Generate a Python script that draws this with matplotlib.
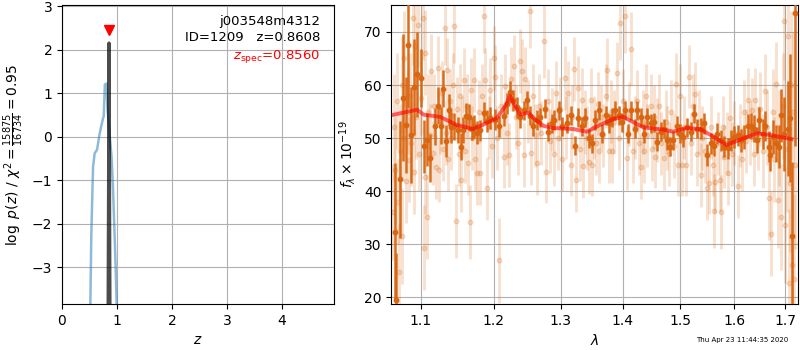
import time

import matplotlib
matplotlib.use("Agg")
import matplotlib.pyplot as plt
import numpy as np
from matplotlib.ticker import FixedLocator, FormatStrFormatter, NullLocator

# p(z) curves
pz_z = [0.50, 0.516, 0.534, 0.565, 0.595, 0.638, 0.681, 0.712, 0.748, 0.76, 0.78,
        0.81, 0.829, 0.866, 0.902, 0.927, 0.952, 0.976, 0.995, 1.01]
pz_logp = [-4.5, -3.85, -2.22, -0.69, -0.38, -0.30, 0.04, 0.23, 0.43, 0.47, 1.20,
           1.22, 0.62, 0.05, -0.46, -1.15, -2.07, -2.99, -3.85, -4.5]

fit_z = [0.840, 0.850, 0.856, 0.862, 0.872]
fit_logp = [-4.5, -1.0, 2.15, -1.0, -4.5]

z_spec = 0.856
z_best = 0.8608
obj_id = 1209
root = "j003548m4312"
chi2_num, chi2_den = 15875, 16734

# spectrum: strong points
bright_wave = [
    1.0669, 1.0677, 1.0733, 1.0775, 1.0805, 1.0831, 1.0875, 1.0918, 1.0948, 1.1011,
    1.1047, 1.1089, 1.1121, 1.1186, 1.1230, 1.1265, 1.1295, 1.1340, 1.1385, 1.1407,
    1.1453, 1.1506, 1.1543, 1.1574, 1.1606, 1.1654, 1.1690, 1.1719, 1.1766, 1.1812,
    1.1859, 1.1907, 1.1954, 1.2025, 1.2073, 1.2145, 1.2194, 1.2242, 1.2281, 1.2340,
    1.2389, 1.2438, 1.2488, 1.2538, 1.2578, 1.2638, 1.2688, 1.2764, 1.2814, 1.2866,
    1.2896, 1.2975, 1.3027, 1.3104, 1.3156, 1.3226, 1.3278, 1.3330, 1.3393, 1.3448,
    1.3501, 1.3554, 1.3609, 1.3663, 1.3717, 1.3773, 1.3827, 1.3881, 1.3937, 1.3993,
    1.4038, 1.4093, 1.4149, 1.4206, 1.4247, 1.4305, 1.4361, 1.4418, 1.4476, 1.4534,
    1.4591, 1.4650, 1.4708, 1.4767, 1.4814, 1.4873, 1.4933, 1.4992, 1.5052, 1.5124,
    1.5185, 1.5245, 1.5306, 1.5367, 1.5429, 1.5490, 1.5552, 1.5615, 1.5677, 1.5745,
    1.5807, 1.5872, 1.5935, 1.5999, 1.6062, 1.6126, 1.6189, 1.6255, 1.6319, 1.6384,
    1.6431, 1.6482, 1.6549, 1.6600, 1.6668, 1.6699, 1.6747, 1.6813, 1.6880, 1.6920,
    1.6982, 1.7050, 1.7096, 1.7137, 1.7199,
]
bright_flux = [
    32.3, 19.4, 42.2, 57.6, 52.5, 67.6, 50.6, 59.6, 62.0, 61.3,
    48.5, 49.7, 46.3, 52.2, 56.1, 52.3, 59.3, 49.4, 55.3, 52.0,
    52.2, 51.5, 48.4, 51.5, 54.2, 53.9, 51.8, 52.2, 51.0, 51.5,
    54.8, 53.2, 53.8, 53.5, 52.2, 54.2, 56.5, 58.7, 57.1, 55.8,
    53.9, 55.2, 57.1, 54.2, 52.2, 53.4, 53.9, 55.5, 51.2, 52.8,
    53.4, 55.2, 52.2, 52.8, 54.3, 48.6, 53.8, 52.2, 53.8, 50.0,
    49.0, 53.4, 55.2, 50.8, 54.3, 52.8, 53.8, 55.2, 54.3, 53.0,
    55.2, 50.8, 55.2, 51.8, 55.2, 53.9, 50.8, 53.9, 52.8, 53.0,
    49.3, 51.2, 51.8, 49.6, 48.4, 49.6, 52.3, 50.8, 50.2, 52.0,
    51.2, 54.6, 51.8, 51.8, 52.8, 46.8, 49.0, 48.6, 50.8, 49.6,
    48.4, 48.1, 49.6, 50.2, 50.5, 49.6, 50.2, 52.3, 52.3, 51.8,
    49.6, 53.4, 50.8, 52.3, 48.4, 46.8, 50.2, 49.0, 48.4, 54.3,
    50.8, 51.8, 53.8, 31.5, 73.5,
]
bright_err = [
    13.0, 9.0, 11.0, 12.0, 9.0, 12.0, 9.0, 9.0, 8.0, 5.5,
    5.0, 5.0, 4.5, 3.5, 3.5, 3.5, 3.5, 3.0, 3.0, 3.0,
    2.5, 2.5, 2.5, 2.5, 2.5, 2.5, 2.2, 2.2, 2.2, 2.0,
    2.0, 2.0, 2.0, 2.0, 2.0, 2.0, 2.0, 2.0, 2.0, 2.0,
    2.0, 1.8, 1.8, 1.8, 1.8, 1.8, 1.8, 1.8, 1.8, 1.8,
    1.8, 1.8, 1.8, 1.8, 1.8, 1.8, 1.8, 1.8, 1.8, 1.8,
    1.8, 1.8, 1.8, 1.8, 1.8, 1.8, 1.8, 1.8, 1.8, 1.8,
    1.8, 1.8, 1.8, 1.8, 1.8, 1.8, 1.8, 1.8, 1.8, 1.8,
    1.8, 1.8, 1.8, 1.8, 1.8, 1.8, 1.8, 1.8, 1.8, 1.8,
    1.8, 1.8, 1.8, 2.0, 2.0, 2.0, 2.0, 2.0, 2.0, 2.0,
    2.0, 2.0, 2.0, 2.0, 2.0, 2.2, 2.2, 2.2, 2.5, 2.5,
    2.5, 2.5, 2.8, 2.8, 3.0, 3.0, 3.2, 3.5, 4.0, 5.0,
    7.0, 9.0, 12.0, 14.0, 25.0,
]

# spectrum: individual noisy points
faint_wave = [
    1.0640, 1.0655, 1.0668, 1.0690, 1.0710, 1.0718, 1.0730, 1.0752, 1.0760, 1.0775,
    1.0790, 1.0805, 1.0830, 1.0845, 1.0860, 1.0880, 1.0900, 1.0915, 1.0927, 1.0945,
    1.0965, 1.0980, 1.1000, 1.1034, 1.1047, 1.1055, 1.1060, 1.1089, 1.1100, 1.1120,
    1.1143, 1.1160, 1.1180, 1.1200, 1.1230, 1.1245, 1.1260, 1.1280, 1.1300, 1.1318,
    1.1335, 1.1353, 1.1370, 1.1390, 1.1410, 1.1430, 1.1453, 1.1475, 1.1490, 1.1510,
    1.1530, 1.1543, 1.1560, 1.1580, 1.1600, 1.1620, 1.1640, 1.1663, 1.1680, 1.1700,
    1.1719, 1.1740, 1.1766, 1.1790, 1.1812, 1.1835, 1.1859, 1.1880, 1.1907, 1.1930,
    1.1954, 1.1980, 1.2000, 1.2025, 1.2050, 1.2085, 1.2110, 1.2145, 1.2170, 1.2200,
    1.2230, 1.2260, 1.2290, 1.2320, 1.2350, 1.2389, 1.2410, 1.2438, 1.2460, 1.2500,
    1.2528, 1.2550, 1.2580, 1.2610, 1.2640, 1.2670, 1.2700, 1.2749, 1.2780, 1.2810,
    1.2840, 1.2870, 1.2900, 1.2930, 1.2960, 1.2990, 1.3020, 1.3068, 1.3090, 1.3120,
    1.3156, 1.3180, 1.3211, 1.3246, 1.3270, 1.3300, 1.3330, 1.3360, 1.3390, 1.3420,
    1.3448, 1.3475, 1.3501, 1.3530, 1.3560, 1.3590, 1.3609, 1.3640, 1.3680, 1.3717,
    1.3740, 1.3773, 1.3800, 1.3827, 1.3860, 1.3910, 1.3940, 1.3964, 1.4000, 1.4047,
    1.4070, 1.4100, 1.4149, 1.4180, 1.4210, 1.4250, 1.4280, 1.4305, 1.4340, 1.4361,
    1.4390, 1.4420, 1.4476, 1.4500, 1.4530, 1.4560, 1.4591, 1.4620, 1.4650, 1.4708,
    1.4740, 1.4770, 1.4800, 1.4840, 1.4880, 1.4915, 1.4950, 1.4992, 1.5030, 1.5060,
    1.5100, 1.5154, 1.5190, 1.5220, 1.5263, 1.5300, 1.5340, 1.5367, 1.5400, 1.5450,
    1.5490, 1.5520, 1.5560, 1.5600, 1.5615, 1.5640, 1.5680, 1.5720, 1.5745, 1.5780,
    1.5810, 1.5850, 1.5872, 1.5915, 1.5950, 1.6000, 1.6062, 1.6100, 1.6140, 1.6189,
    1.6230, 1.6262, 1.6300, 1.6330, 1.6370, 1.6400, 1.6450, 1.6500, 1.6560, 1.6600,
    1.6640, 1.6680, 1.6720, 1.6750, 1.6780, 1.6813, 1.6850, 1.6880, 1.6920, 1.6950,
    1.6982, 1.7000, 1.7040, 1.7050, 1.7075, 1.7090, 1.7110, 1.7140, 1.7160, 1.7180,
    1.7200,
]
faint_flux = [
    36.1, 52.0, 44.0, 57.0, 38.0, 24.8, 47.5, 31.5, 60.0, 50.0,
    65.0, 42.0, 55.0, 45.9, 58.0, 49.0, 72.7, 43.7, 67.3, 54.0,
    71.4, 47.0, 57.5, 72.7, 29.3, 66.1, 42.7, 35.2, 55.0, 50.5,
    62.6, 47.2, 56.0, 44.5, 63.2, 43.9, 53.0, 58.5, 48.0, 70.8,
    51.0, 62.9, 46.0, 57.0, 50.0, 60.0, 71.2, 34.4, 55.5, 47.0,
    58.0, 42.1, 52.0, 61.0, 47.5, 56.0, 45.3, 34.2, 59.0, 50.0,
    61.0, 46.0, 43.4, 55.0, 43.4, 58.0, 73.0, 61.0, 40.5, 52.0,
    59.1, 48.5, 65.1, 61.5, 50.0, 27.0, 56.0, 46.5, 59.8, 51.0,
    46.8, 61.1, 63.5, 54.0, 49.0, 64.5, 62.6, 46.8, 61.1, 55.0,
    73.9, 47.2, 58.0, 50.5, 45.3, 56.0, 51.0, 68.3, 43.7, 57.0,
    49.5, 53.5, 47.0, 58.5, 50.0, 55.5, 46.0, 61.3, 52.0, 58.5,
    45.0, 54.0, 63.0, 42.1, 59.5, 48.0, 57.2, 44.8, 53.0, 50.0,
    45.5, 57.2, 45.0, 52.0, 49.0, 56.5, 47.5, 54.0, 50.5, 57.9,
    62.9, 47.5, 55.0, 47.5, 53.0, 62.2, 50.0, 71.7, 57.0, 73.0,
    46.2, 54.5, 66.8, 47.5, 52.0, 56.9, 49.0, 44.6, 53.0, 47.5,
    58.0, 50.5, 56.0, 48.0, 54.0, 46.5, 51.5, 56.0, 49.0, 46.2,
    53.0, 50.0, 47.0, 55.0, 48.5, 60.1, 45.0, 57.9, 45.0, 52.0,
    45.0, 61.6, 49.0, 56.0, 58.4, 47.0, 53.0, 43.1, 50.0, 47.5,
    40.5, 41.6, 52.0, 45.0, 36.3, 41.8, 49.0, 42.1, 36.1, 52.0,
    46.5, 49.0, 43.4, 53.8, 47.0, 51.0, 40.9, 50.5, 46.0, 55.0,
    49.5, 57.2, 51.0, 55.3, 47.0, 57.2, 50.0, 55.5, 47.5, 58.8,
    52.0, 38.7, 32.0, 55.0, 46.0, 60.1, 38.3, 50.0, 35.2, 56.0,
    72.0, 33.6, 48.0, 69.2, 22.6, 41.5, 60.0, 26.0, 55.0, 23.5,
    45.0,
]
faint_err = [
    9, 10, 10, 9, 8, 9, 9, 9, 9, 8,
    9, 8, 8, 8, 8, 8, 9, 8, 8, 8,
    8, 7, 7, 8, 8, 8, 7, 8, 7, 6,
    7, 6, 6, 6, 6, 6, 6, 6, 6, 7,
    6, 6, 6, 6, 6, 6, 7, 7, 6, 6,
    6, 6, 6, 6, 6, 6, 6, 7, 6, 6,
    6, 6, 6, 6, 6, 6, 7, 6, 6, 6,
    6, 6, 6, 6, 6, 8, 6, 6, 6, 6,
    6, 6, 6, 6, 6, 6, 6, 6, 6, 6,
    7, 6, 6, 6, 6, 6, 6, 7, 6, 6,
    6, 6, 6, 6, 6, 6, 6, 6, 6, 6,
    6, 6, 6, 6, 6, 6, 6, 6, 6, 6,
    6, 6, 6, 6, 6, 6, 6, 6, 6, 6,
    6, 6, 6, 6, 6, 6, 6, 7, 6, 7,
    6, 6, 7, 6, 6, 6, 6, 6, 6, 6,
    6, 6, 6, 6, 6, 6, 6, 6, 6, 6,
    6, 6, 6, 6, 6, 6, 6, 6, 6, 6,
    6, 6, 6, 6, 6, 6, 6, 6, 6, 6,
    6, 6, 6, 6, 7, 6, 6, 6, 7, 6,
    6, 6, 6, 6, 6, 6, 6, 6, 6, 6,
    6, 6, 6, 6, 6, 6, 6, 7, 7, 7,
    7, 8, 8, 8, 8, 8, 9, 9, 10, 10,
    11, 11, 12, 12, 14, 13, 14, 15, 15, 16,
    16,
]

# best-fit template
model_wave = [1.0651, 1.0953, 1.1040, 1.1260, 1.1480, 1.1710, 1.1850, 1.2050, 1.2167,
              1.2240, 1.2290, 1.2388, 1.2510, 1.2586, 1.2738, 1.2890, 1.3200, 1.3416,
              1.3630, 1.3847, 1.4014, 1.4180, 1.4355, 1.4700, 1.4870, 1.5113, 1.5356,
              1.5600, 1.5850, 1.6106, 1.6430, 1.6690, 1.7130]
model_flux = [54.4, 55.35, 54.4, 54.0, 52.5, 51.7, 52.5, 53.8, 56.0,
              57.9, 56.6, 54.4, 54.8, 53.8, 52.3, 51.9, 51.7, 51.2,
              52.5, 53.6, 54.0, 53.0, 52.0, 51.6, 51.2, 51.9, 51.7,
              50.3, 48.7, 49.7, 50.9, 50.6, 49.8]

orange = "#d9650f"
grid_kw = dict(color="#b0b0b0", linewidth=0.8)

fig = plt.figure(figsize=(8, 3.5), dpi=100)

# left: redshift PDF
ax1 = fig.add_axes([0.0775, 0.131, 0.34, 0.855])
ax1.plot(pz_z, pz_logp, color="C0", alpha=0.5, lw=1.8)
ax1.plot(fit_z, fit_logp, color="k", alpha=0.7, lw=2.5)
ax1.plot([z_spec], [2.45], marker="v", color="red", ms=7, ls="none")
ax1.set_xlim(0, 4.95)
ax1.set_ylim(-3.85, 3.03)
ax1.set_xticks([0, 1, 2, 3, 4])
ax1.set_yticks([-3, -2, -1, 0, 1, 2, 3])
ax1.grid(**grid_kw)
ax1.set_xlabel("$z$")
ax1.set_ylabel(r"$\log\ p(z)$ / $\chi^2=\frac{%d}{%d}=%.2f$"
               % (chi2_num, chi2_den, chi2_num / chi2_den))
ax1.text(0.95, 0.945, root, transform=ax1.transAxes, ha="right", va="center",
         fontsize=9.5)
ax1.text(0.95, 0.89, "ID=%d   z=%.4f" % (obj_id, z_best), transform=ax1.transAxes,
         ha="right", va="center", fontsize=9.5)
ax1.text(0.95, 0.826, r"$z_\mathrm{spec}$=%.4f" % z_spec, transform=ax1.transAxes,
         ha="right", va="center", fontsize=9.5, color="red")

# right: 1D spectrum
ax2 = fig.add_axes([0.489, 0.131, 0.509, 0.855])
ax2.errorbar(faint_wave, faint_flux, yerr=faint_err, fmt="o", color=orange,
             ms=3.3, elinewidth=2, alpha=0.2, zorder=2)
ax2.errorbar(bright_wave, bright_flux, yerr=bright_err, fmt="o", color=orange,
             ms=3.2, elinewidth=1.8, alpha=0.95, zorder=3)
ax2.plot(model_wave, model_flux, color="red", alpha=0.6, lw=2.8, zorder=4)
ax2.set_xscale("log")
ax2.xaxis.set_major_locator(FixedLocator([1.1, 1.2, 1.3, 1.4, 1.5, 1.6, 1.7]))
ax2.xaxis.set_major_formatter(FormatStrFormatter("%.1f"))
ax2.xaxis.set_minor_locator(NullLocator())
ax2.set_xlim(1.062, 1.727)
ax2.set_ylim(18.7, 75.1)
ax2.set_yticks([20, 30, 40, 50, 60, 70])
ax2.grid(**grid_kw)
ax2.set_axisbelow(True)
ax2.set_xlabel(r"$\lambda$")
ax2.set_ylabel(r"$f_\lambda\times10^{-19}$")

stamp = time.strftime("%a %b %d %H:%M:%S %Y", (2020, 4, 23, 11, 44, 35, 3, 114, 0))
fig.text(0.985, 0.029, stamp, ha="right", va="center", fontsize=5)

fig.savefig("out.png", dpi=100)
